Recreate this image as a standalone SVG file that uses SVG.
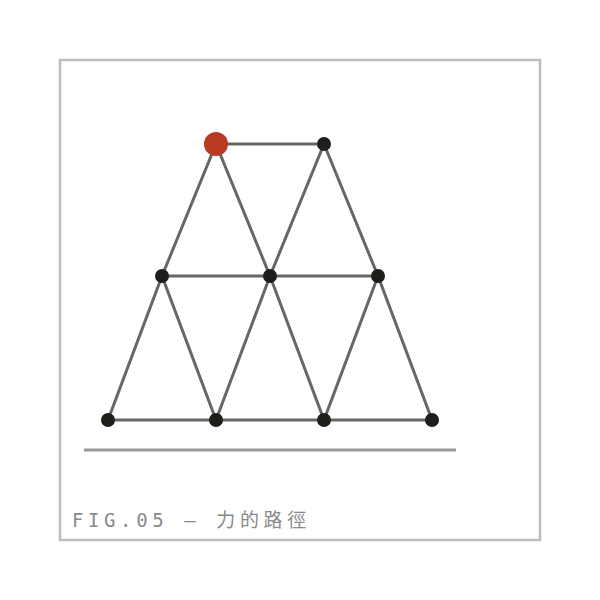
<svg xmlns="http://www.w3.org/2000/svg" width="600" height="600" viewBox="0 0 600 600">
<style>
.frame{fill:#fff;stroke:#bdbdbd;stroke-width:2.5}
.edge{stroke:#666;stroke-width:3;stroke-linecap:round}
.node{fill:#201e1b}
.start{fill:#b93a22}
.ground{stroke:#999;stroke-width:3}
.cap{font-family:"DejaVu Sans Mono","Noto Sans CJK TC",monospace;font-size:19px;letter-spacing:4.6px;fill:#8a8a8a}
</style>
<rect x="0" y="0" width="600" height="600" fill="#fff"/>
<rect class="frame" x="60" y="60" width="480" height="480"/>
<line class="ground" x1="84" y1="450" x2="456" y2="450"/>
<g id="connectors">
<line class="edge" x1="216" y1="144" x2="324" y2="144"/>
<line class="edge" x1="216" y1="144" x2="162" y2="276"/>
<line class="edge" x1="216" y1="144" x2="270" y2="276"/>
<line class="edge" x1="324" y1="144" x2="270" y2="276"/>
<line class="edge" x1="324" y1="144" x2="378" y2="276"/>
<line class="edge" x1="162" y1="276" x2="270" y2="276"/>
<line class="edge" x1="270" y1="276" x2="378" y2="276"/>
<line class="edge" x1="162" y1="276" x2="108" y2="420"/>
<line class="edge" x1="162" y1="276" x2="216" y2="420"/>
<line class="edge" x1="270" y1="276" x2="216" y2="420"/>
<line class="edge" x1="270" y1="276" x2="324" y2="420"/>
<line class="edge" x1="378" y1="276" x2="324" y2="420"/>
<line class="edge" x1="378" y1="276" x2="432" y2="420"/>
<line class="edge" x1="108" y1="420" x2="216" y2="420"/>
<line class="edge" x1="216" y1="420" x2="324" y2="420"/>
<line class="edge" x1="324" y1="420" x2="432" y2="420"/>
</g>
<g id="n1"><circle class="start" cx="216" cy="144" r="12"/></g>
<g id="n2"><circle class="node" cx="324" cy="144" r="7"/></g>
<g id="n3"><circle class="node" cx="162" cy="276" r="7"/></g>
<g id="n4"><circle class="node" cx="270" cy="276" r="7"/></g>
<g id="n5"><circle class="node" cx="378" cy="276" r="7"/></g>
<g id="n6"><circle class="node" cx="108" cy="420" r="7"/></g>
<g id="n7"><circle class="node" cx="216" cy="420" r="7"/></g>
<g id="n8"><circle class="node" cx="324" cy="420" r="7"/></g>
<g id="n9"><circle class="node" cx="432" cy="420" r="7"/></g>
<text class="cap" x="72" y="527">FIG.05 — 力的路徑</text>
</svg>
